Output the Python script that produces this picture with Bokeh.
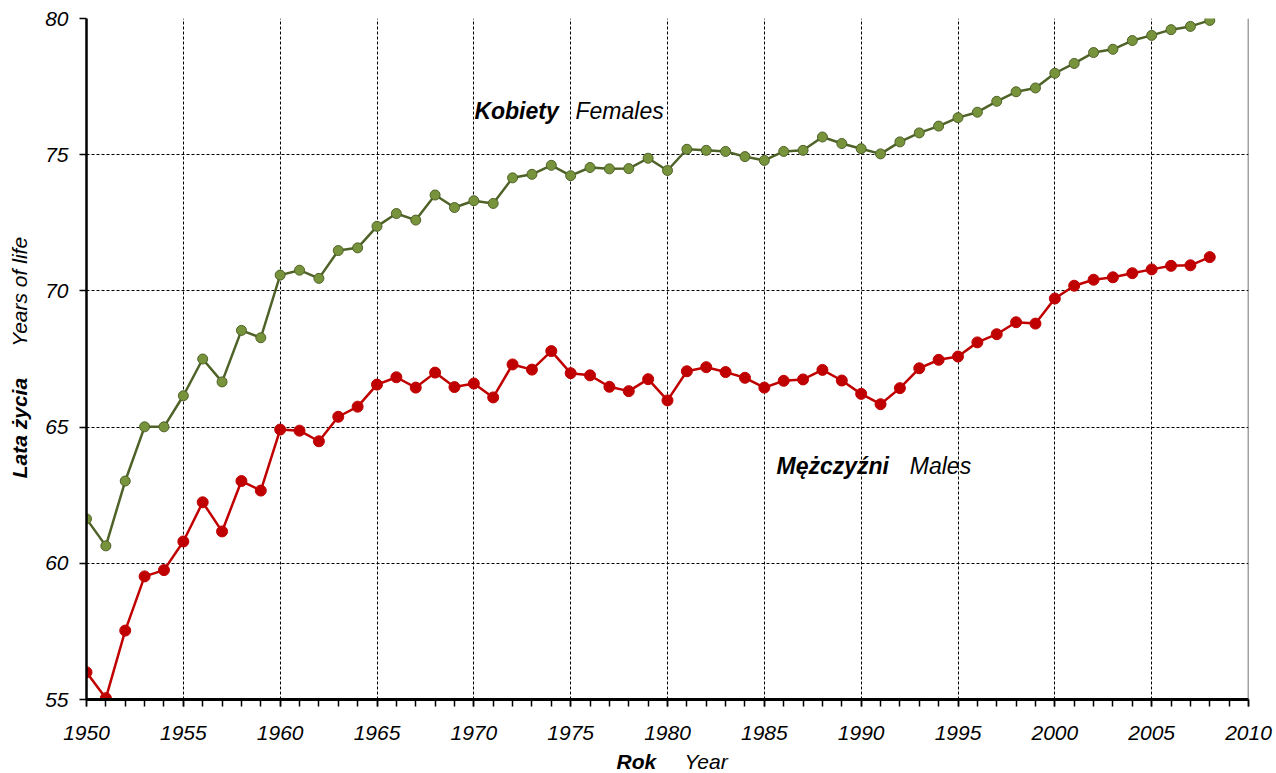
import math
from bokeh.plotting import figure
from bokeh.layouts import row, column
from bokeh.models import Range1d, SingleIntervalTicker, Label, Span, ColumnDataSource
from bokeh.embed import file_html
from bokeh.resources import INLINE

years = list(range(1950, 2009))

females = [61.63, 60.64, 63.02, 65.01, 65.01, 66.15, 67.50, 66.66, 68.55, 68.28,
           70.58, 70.76, 70.46, 71.48, 71.58, 72.37, 72.84, 72.60, 73.52, 73.06,
           73.31, 73.21, 74.15, 74.28, 74.61, 74.23, 74.53, 74.48, 74.49, 74.87,
           74.42, 75.20, 75.16, 75.12, 74.93, 74.79, 75.12, 75.16, 75.65, 75.41,
           75.22, 75.03, 75.47, 75.80, 76.05, 76.36, 76.56, 76.96, 77.31, 77.45,
           77.99, 78.35, 78.75, 78.87, 79.19, 79.38, 79.59, 79.71, 79.93]

males = [56.00, 55.05, 57.53, 59.52, 59.75, 60.80, 62.24, 61.17, 63.02, 62.67,
         64.91, 64.87, 64.48, 65.38, 65.75, 66.56, 66.83, 66.45, 67.00, 66.47,
         66.60, 66.09, 67.30, 67.11, 67.79, 66.98, 66.90, 66.48, 66.32, 66.76,
         65.98, 67.05, 67.20, 67.02, 66.81, 66.45, 66.70, 66.75, 67.10, 66.71,
         66.22, 65.84, 66.43, 67.16, 67.47, 67.59, 68.11, 68.41, 68.85, 68.80,
         69.72, 70.19, 70.41, 70.50, 70.65, 70.79, 70.92, 70.94, 71.24]

x_start, x_end = 1950, 2010
y_start, y_end = 55, 80

FONT = "Liberation Sans"

TOTAL_W = 1276
LEFT_W = 40          # strip holding the y-axis title
MAIN_W, MAIN_H = TOTAL_W - LEFT_W, 745
BOTTOM_H = 28        # strip holding the x-axis title

p = figure(width=MAIN_W, height=MAIN_H, output_backend="svg", toolbar_location=None,
           x_range=Range1d(x_start, x_end), y_range=Range1d(y_start, y_end),
           min_border_left=46, min_border_right=28, min_border_top=18,
           min_border_bottom=46)
p.outline_line_color = None
p.background_fill_color = "white"
p.border_fill_color = "white"

# axes
p.xaxis.ticker = SingleIntervalTicker(interval=5, num_minor_ticks=5)
p.yaxis.ticker = SingleIntervalTicker(interval=5, num_minor_ticks=0)
for ax in (p.xaxis[0], p.yaxis[0]):
    ax.axis_line_color = "black"
    ax.major_tick_line_color = "black"
    ax.major_tick_in = 0
    ax.major_tick_out = 7
    ax.major_label_text_font = FONT
    ax.major_label_text_font_style = "italic"
    ax.major_label_text_font_size = "21px"
    ax.major_label_text_color = "black"
p.xaxis.axis_line_width = 3
p.yaxis.axis_line_width = 2.5
p.xaxis.major_tick_line_width = 1.5
p.yaxis.major_tick_line_width = 1.5
p.xaxis.minor_tick_line_color = "black"
p.xaxis.minor_tick_line_width = 1.5
p.xaxis.minor_tick_in = 0
p.xaxis.minor_tick_out = 7
p.yaxis.minor_tick_line_color = None
p.xaxis.major_label_standoff = 19
p.yaxis.major_label_standoff = 11

# grid
for g in (p.xgrid[0], p.ygrid[0]):
    g.grid_line_color = "black"
    g.grid_line_width = 1
    g.grid_line_dash = "3 2"
    g.grid_line_alpha = 1.0

# right border (solid)
p.add_layout(Span(location=x_end, dimension="height", line_color="#444444", line_width=1.5))

src = ColumnDataSource(dict(year=years, f=females, m=males))

p.line("year", "f", source=src, line_color="#4f6228", line_width=2.5)
p.scatter("year", "f", source=src, size=10, fill_color="#77933c",
          line_color="#4f6228", line_width=1)

p.line("year", "m", source=src, line_color="#c00000", line_width=2.5)
p.scatter("year", "m", source=src, size=11, fill_color="#c00000",
          line_color="#c00000", line_width=1)


def lab(fig, x, y, text, style, size, angle=0.0):
    fig.add_layout(Label(x=x, y=y, text=text, text_font=FONT, text_font_style=style,
                         text_font_size=size, text_color="black", angle=angle,
                         text_baseline="alphabetic", text_align="left"))


# series labels
lab(p, 1970.03, 76.62, "Kobiety", "bold italic", "23px")
lab(p, 1975.25, 76.62, "Females", "italic", "23px")
lab(p, 1985.63, 63.56, "Mężczyźni", "bold italic", "23px")
lab(p, 1992.51, 63.56, "Males", "italic", "23px")


def strip(w, h):
    f = figure(width=w, height=h, output_backend="svg", toolbar_location=None,
               title=None,
               x_range=Range1d(0, w), y_range=Range1d(0, h),
               x_axis_type=None, y_axis_type=None,
               min_border_left=0, min_border_right=0, min_border_top=0,
               min_border_bottom=0)
    f.outline_line_color = None
    f.grid.visible = False
    f.background_fill_color = "white"
    f.border_fill_color = "white"
    return f


# y-axis title strip
ystrip = strip(LEFT_W, MAIN_H)
lab(ystrip, 19, 242, "Lata życia", "bold italic", "21px", angle=math.pi / 2)
lab(ystrip, 19, 386, "Years of life", "italic", "21px", angle=math.pi / 2)

# x-axis title strip, full width
xstrip = strip(TOTAL_W, BOTTOM_H)
lab(xstrip, 616, 12, "Rok", "bold italic", "21px")
lab(xstrip, 684, 12, "Year", "italic", "21px")

layout = column(row(ystrip, p, spacing=0), xstrip, spacing=0)

open("out.html", "w").write(file_html(layout, INLINE))
